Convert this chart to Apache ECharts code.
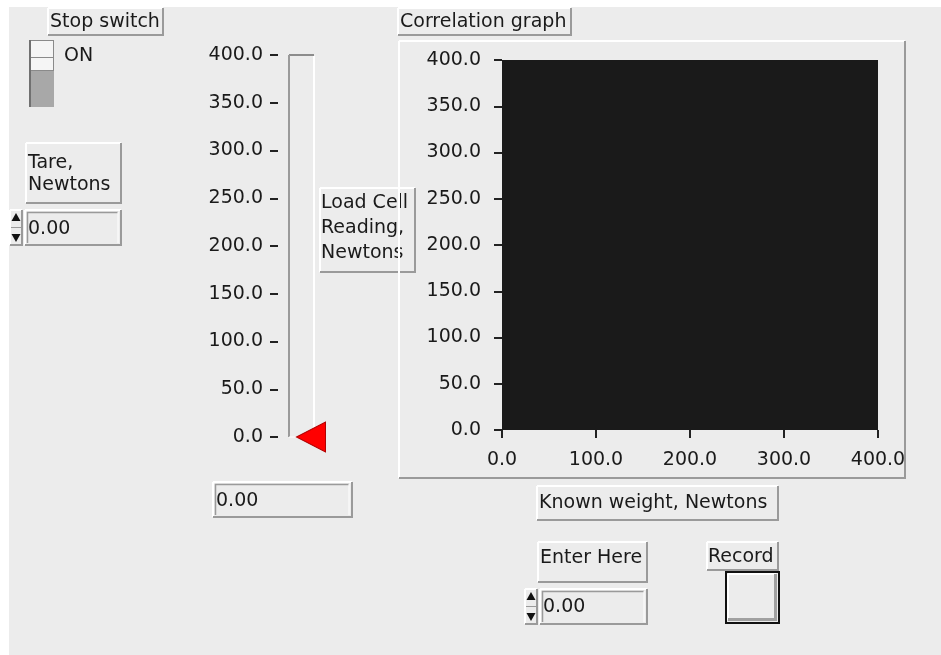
<!DOCTYPE html>
<html><head><meta charset="utf-8">
<script src="https://cdn.jsdelivr.net/npm/echarts@6/dist/echarts.min.js"></script>
<style>html,body{margin:0;padding:0;background:#fff}#c{width:941px;height:655px}</style>
</head><body><div id="c"></div>
<script>
// ---- data ----
const axisMin = 0, axisMax = 400, axisStep = 50;
const sliderCategories = ['Load Cell Reading, Newtons'];
const loadCellReading = [0];
const knownWeight = [];
const measuredLoad = [];
const tareValue = 0;
const enterHereValue = 0;
const indicatorValue = 0;
const switchState = 'ON';
const labelTexts = {
  stop: 'Stop switch',
  tare: ['Tare,', 'Newtons'],
  loadCell: ['Load Cell', 'Reading,', 'Newtons'],
  graph: 'Correlation graph',
  xName: 'Known weight, Newtons',
  enter: 'Enter Here',
  record: 'Record'
};

// ---- helpers ----
const FONT = '19px "DejaVu Sans"';
const TXT = '#1a1a1a';
const LIGHT = '#ffffff', DARK = '#9a9a9a';
const G = [];
function line(x1, y1, x2, y2, c, w) {
  G.push({type: 'line', silent: true, shape: {x1, y1, x2, y2}, style: {stroke: c, lineWidth: w || 1}});
}
function rect(x, y, w, h, fill, stroke, lw) {
  G.push({type: 'rect', silent: true, shape: {x, y, width: w, height: h},
    style: {fill: fill, stroke: stroke || null, lineWidth: lw || 0}});
}
function poly(points, fill) {
  G.push({type: 'polygon', silent: true, shape: {points}, style: {fill}});
}
function text(s, x, y, align) {
  G.push({type: 'text', silent: true,
    style: {text: s, x, y, font: FONT, fill: TXT, textAlign: align || 'left', textVerticalAlign: 'middle',
      align: align || 'left', verticalAlign: 'middle'}});
}
function raised(x, y, w, h) {
  line(x, y, x + w, y, LIGHT, 2);
  line(x, y, x, y + h, LIGHT, 2);
  line(x, y + h, x + w, y + h, DARK, 2);
  line(x + w, y, x + w, y + h + 1, DARK, 2);
}
function numeric(x, y, w, h) {
  raised(x, y, w, h);
  line(x + 2, y + 2.5, x + w - 3, y + 2.5, DARK, 1.5);
  line(x + 2.5, y + 2, x + 2.5, y + h - 2, DARK, 1.5);
  line(x + w - 3, y + 2, x + w - 3, y + h - 2, LIGHT, 1);
}
function spinner(x, y, w, h) {
  raised(x, y, w, h);
  const cx = x + w / 2, m = y + h / 2;
  line(x + 1, m, x + w - 1, m, DARK, 1);
  poly([[cx - 4.5, y + 11], [cx + 4.5, y + 11], [cx, y + 3]], '#111');
  poly([[cx - 4.5, y + h - 11], [cx + 4.5, y + h - 11], [cx, y + h - 3]], '#111');
}

// page background strips
rect(0, 0, 941, 7, '#ffffff');
rect(0, 0, 9, 655, '#ffffff');

// Stop switch
raised(48, 8, 115, 27);
text(labelTexts.stop, 50, 22);
rect(29, 40, 25, 67, '#a8a8a8');
rect(31, 41, 22, 16, '#f5f5f5');
rect(31, 58, 22, 12, '#f5f5f5');
line(29, 40.5, 54, 40.5, '#8a8a8a', 1);
line(31, 57.5, 53, 57.5, '#8a8a8a', 1);
line(31, 70.5, 53, 70.5, '#8a8a8a', 1);
line(53.5, 40, 53.5, 71, '#8a8a8a', 1);
line(30, 40, 30, 107, '#707070', 2);
text(switchState, 64, 56);

// Tare
raised(26, 143, 95, 60);
text(labelTexts.tare[0], 28, 163);
text(labelTexts.tare[1], 28, 185);
spinner(10, 210, 12, 35);
numeric(25, 210, 96, 35);
text(tareValue.toFixed(2), 28, 229);

// slider track
line(289, 55, 314, 55, '#8c8c8c', 2);
line(289, 55, 289, 437, '#9a9a9a', 2);
line(314, 56, 314, 437, '#ffffff', 2);
line(289, 437, 314, 437, '#ffffff', 1);

// Load cell label
raised(320, 188, 95, 84);
text(labelTexts.loadCell[0], 321, 203);
text(labelTexts.loadCell[1], 321, 228);
text(labelTexts.loadCell[2], 321, 253);

// indicator
numeric(213, 482, 139, 35);
text(indicatorValue.toFixed(2), 216, 501);

// Correlation graph label + frame
raised(398, 8, 173, 27);
text(labelTexts.graph, 400, 22);
raised(399, 41, 506, 437);

// Known weight label
raised(537, 486, 241, 34);
text(labelTexts.xName, 539, 503);

// Enter here
raised(538, 542, 109, 40);
text(labelTexts.enter, 540, 558);
spinner(525, 589, 12, 35);
numeric(540, 589, 107, 35);
text(enterHereValue.toFixed(2), 543, 607);

// Record
raised(707, 542, 71, 28);
text(labelTexts.record, 708, 557);
rect(726, 572, 53, 51, '#ececec', '#111', 2);
line(728, 574, 776, 574, '#ffffff', 2);
line(728, 574, 728, 620, '#ffffff', 2);
line(728, 619.5, 777, 619.5, '#a0a0a0', 3);
line(775.5, 574, 775.5, 621, '#a0a0a0', 3);

const fmt = v => v.toFixed(1);
const axisLabelStyle = {fontFamily: 'DejaVu Sans', fontSize: 19, color: TXT, formatter: fmt};

const option = {
  backgroundColor: '#ececec',
  animation: false,
  grid: [
    {left: 288, top: 55, width: 26, height: 382, show: false},
    {left: 502, top: 60, width: 376, height: 370, show: true, backgroundColor: '#1a1a1a', borderWidth: 0}
  ],
  xAxis: [
    {gridIndex: 0, type: 'category', data: sliderCategories, show: false},
    {gridIndex: 1, type: 'value', min: axisMin, max: axisMax, interval: axisStep * 2,
      offset: 5, axisLine: {show: false}, splitLine: {show: false},
      axisTick: {show: true, length: 8, lineStyle: {color: '#222', width: 2}},
      axisLabel: Object.assign({margin: 16}, axisLabelStyle)}
  ],
  yAxis: [
    {gridIndex: 0, type: 'value', min: axisMin, max: axisMax, interval: axisStep,
      offset: 10, axisLine: {show: false}, splitLine: {show: false},
      axisTick: {show: true, length: 8, lineStyle: {color: '#222', width: 2}},
      axisLabel: Object.assign({margin: 15}, axisLabelStyle)},
    {gridIndex: 1, type: 'value', min: axisMin, max: axisMax, interval: axisStep,
      offset: 7, axisLine: {show: false}, splitLine: {show: false},
      axisTick: {show: true, length: 8, lineStyle: {color: '#222', width: 2}},
      axisLabel: Object.assign({margin: 14}, axisLabelStyle)}
  ],
  series: [
    {type: 'scatter', xAxisIndex: 0, yAxisIndex: 0, clip: false,
      symbol: 'triangle', symbolSize: [30, 29], symbolRotate: 90, symbolOffset: [10, 0],
      itemStyle: {color: '#ff0000', borderColor: '#b00000', borderWidth: 1, opacity: 1},
      data: loadCellReading.map((v, i) => [i, v])},
    {type: 'line', xAxisIndex: 1, yAxisIndex: 1, showSymbol: false,
      lineStyle: {color: '#ffffff', width: 1},
      data: knownWeight.map((w, i) => [w, measuredLoad[i]])}
  ],
  graphic: G
};
echarts.init(document.getElementById('c')).setOption(option);
</script></body></html>
